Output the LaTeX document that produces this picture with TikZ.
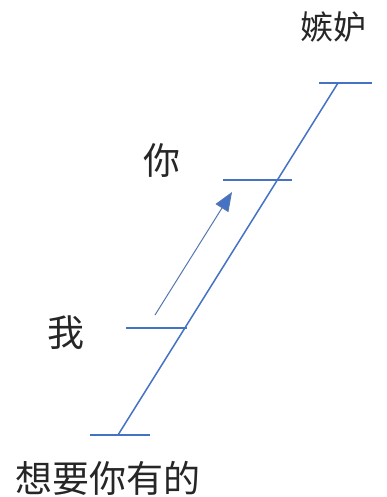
\documentclass[tikz,border=0pt]{standalone}
\usepackage{fontspec}
\newfontfamily\cjk{Noto Sans CJK SC}
\usepackage{xcolor}
\usetikzlibrary{arrows.meta, positioning}
\definecolor{wordblue}{HTML}{4472C4}

\begin{document}
\begin{tikzpicture}[
    x=1pt, y=-1pt,
    lbl/.style={font=\cjk\fontsize{37}{42}\selectfont, inner sep=0pt, text=black!85},
    bar/.style={draw=wordblue, line width=1.5pt},
    arr/.style={-{Triangle[length=19pt, width=15pt, fill=wordblue]}, draw=wordblue!70!gray, line width=1pt}
]
\useasboundingbox (0,0) rectangle (386,497);

% bars
\coordinate (base_l) at (90,435);
\coordinate (base_r) at (150,435);
\coordinate (base_m) at (118,435);
\coordinate (me_l) at (126,328);
\coordinate (me_r) at (187,328);
\coordinate (you_l) at (223,180);
\coordinate (you_r) at (292,180);
\coordinate (top_l) at (319,83);
\coordinate (top_r) at (372,83);
\coordinate (top_m) at (338,83);
\coordinate (arr_s) at (155,315);
\coordinate (arr_e) at (232,192);

\node[lbl, font=\cjk\fontsize{33}{38}\selectfont] (jealous) at (333,27) {嫉妒};
\node[lbl] (you) at (162,161) {你};
\node[lbl] (me) at (66,333) {我};
\node[lbl] (want) at (108,478) {想要你有的};

\draw[bar] (base_l) -- (base_r);
\draw[bar] (me_l) -- (me_r);
\draw[bar] (you_l) -- (you_r);
\draw[bar] (top_l) -- (top_r);
\draw[bar] (base_m) -- (top_m);
\draw[arr] (arr_s) -- (arr_e);

\end{tikzpicture}
\end{document}
